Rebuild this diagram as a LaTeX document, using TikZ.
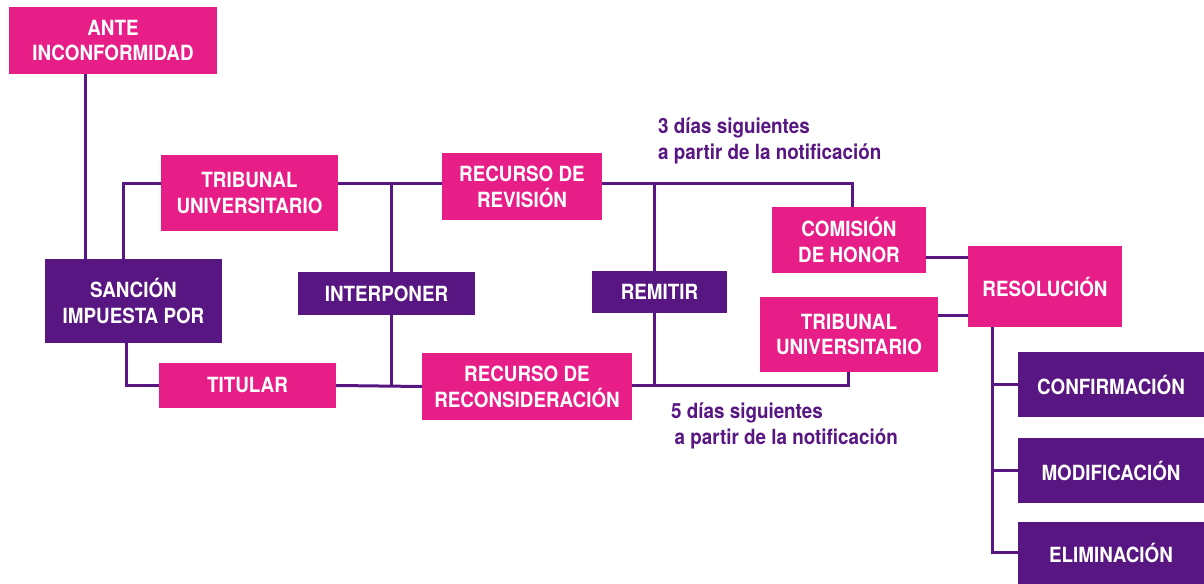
\documentclass[tikz,border=0pt]{standalone}
\usepackage[x11names, svgnames, rgb]{xcolor}
\usepackage{tikz}
\usetikzlibrary{arrows,shapes}
\usepackage{fontspec}
\setmainfont[FakeStretch=0.9]{TeX Gyre Heros}
\definecolor{pinkbox}{RGB}{232,30,136}
\definecolor{purplebox}{RGB}{88,22,130}

\begin{document}
\begin{tikzpicture}[line join=miter,
  box/.style={inner sep=0pt,align=center,text=white,
    font=\fontsize{21}{26}\selectfont\bfseries},
  pinkb/.style={box,fill=pinkbox},
  purpleb/.style={box,fill=purplebox},
  link/.style={draw=purplebox,line width=3bp},
  note/.style={inner sep=0pt,anchor=west,align=left,text=purplebox,
    font=\fontsize{21}{26}\selectfont\bfseries},
]
\useasboundingbox (0bp,0bp) rectangle (1204bp,584bp);
%%
\node (ante) at (113.0bp,543.5bp) [pinkb,minimum width=208bp,minimum height=67bp] {ANTE\\INCONFORMIDAD};
  \node (trib1) at (249.5bp,391.0bp) [pinkb,minimum width=177bp,minimum height=76bp] {TRIBUNAL\\UNIVERSITARIO};
  \node (sancion) at (133.5bp,283.0bp) [purpleb,minimum width=177bp,minimum height=84bp] {SANCIÓN\\IMPUESTA POR};
  \node (titular) at (247.5bp,198.5bp) [pinkb,minimum width=177bp,minimum height=45bp] {TITULAR};
  \node (interponer) at (386.5bp,290.5bp) [purpleb,minimum width=177bp,minimum height=43bp] {INTERPONER};
  \node (revision) at (522.0bp,397.5bp) [pinkb,minimum width=160bp,minimum height=67bp] {RECURSO DE\\REVISIÓN};
  \node (reconsid) at (527.0bp,197.5bp) [pinkb,minimum width=210bp,minimum height=67bp] {RECURSO DE\\RECONSIDERACIÓN};
  \node (remitir) at (659.5bp,292.0bp) [purpleb,minimum width=135bp,minimum height=42bp] {REMITIR};
  \node (comision) at (849.0bp,344.0bp) [pinkb,minimum width=154bp,minimum height=66bp] {COMISIÓN\\DE HONOR};
  \node (trib2) at (849.0bp,249.5bp) [pinkb,minimum width=178bp,minimum height=75bp] {TRIBUNAL\\UNIVERSITARIO};
  \node (resolucion) at (1045.0bp,297.5bp) [pinkb,minimum width=154bp,minimum height=81bp] {RESOLUCIÓN};
  \node (confirm) at (1111.0bp,199.5bp) [purpleb,minimum width=186bp,minimum height=65bp] {CONFIRMACIÓN};
  \node (modif) at (1111.0bp,113.5bp) [purpleb,minimum width=186bp,minimum height=65bp] {MODIFICACIÓN};
  \node (elim) at (1111.0bp,31.0bp) [purpleb,minimum width=186bp,minimum height=62bp] {ELIMINACIÓN};
  \node (plazo3) at (658.0bp,443.0bp) [note] {3 días siguientes\\a partir de la notificación};
  \node (plazo5) at (671.0bp,158.5bp) [note] {5 días siguientes\\\,a partir de la notificación};
%
  \coordinate (xa) at (85bp,0bp);
  \coordinate (xb) at (123bp,0bp);
  \coordinate (xc) at (126bp,0bp);
  \coordinate (xd) at (391bp,0bp);
  \coordinate (xe) at (654bp,0bp);
  \coordinate (xf) at (852bp,0bp);
  \coordinate (xg) at (848bp,0bp);
  \coordinate (xh) at (992bp,0bp);
  \coordinate (ytop) at (0bp,400bp);
  \coordinate (ybot) at (0bp,198bp);
  \coordinate (ycom) at (0bp,326bp);
  \coordinate (ytri) at (0bp,268bp);
%
  \draw [link] (ante.south -| xa) -- (sancion.north -| xa);
  \draw [link] (trib1.west |- ytop) -| (sancion.north -| xb);
  \draw [link] (sancion.south -| xc) |- (titular.west);
  \draw [link] (trib1.east |- ytop) -- (revision.west |- ytop);
  \draw [link] (xd |- ytop) -- (interponer.north -| xd);
  \draw [link] (interponer.south -| xd) -- (xd |- ybot);
  \draw [link] (titular.east) -- (reconsid.west);
  \draw [link] (revision.east |- ytop) -| (comision.north -| xf);
  \draw [link] (xe |- ytop) -- (remitir.north -| xe);
  \draw [link] (remitir.south -| xe) -- (xe |- ybot);
  \draw [link] (reconsid.east |- ybot) -| (trib2.south -| xg);
  \draw [link] (comision.east |- ycom) -- (resolucion.west |- ycom);
  \draw [link] (trib2.east |- ytri) -- (resolucion.west |- ytri);
  \draw [link] (resolucion.south -| xh) |- (elim.west);
  \draw [link] (xh |- confirm.west) -- (confirm.west);
  \draw [link] (xh |- modif.west) -- (modif.west);
%
\end{tikzpicture}
\end{document}
